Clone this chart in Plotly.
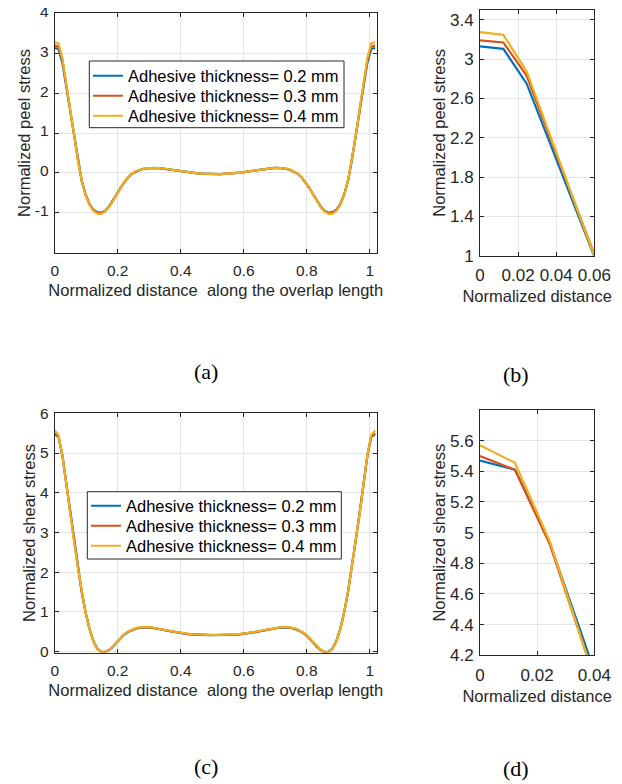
import plotly.graph_objects as go

# ---------------- data ----------------
x_norm = [0.0, 0.01225, 0.0245, 0.03675, 0.049, 0.06125, 0.0735, 0.08575, 0.098, 0.11025,
          0.1225, 0.13475, 0.147, 0.15925, 0.1715, 0.18375, 0.196, 0.20825, 0.2205, 0.23275,
          0.245, 0.25725, 0.2695, 0.28175, 0.294, 0.30625, 0.3185, 0.33075, 0.343, 0.35525,
          0.3675, 0.37975, 0.392, 0.40425, 0.4165, 0.42875, 0.441, 0.45325, 0.4655, 0.47775,
          0.49, 0.50225, 0.5145, 0.52675, 0.539, 0.55125, 0.5635, 0.57575, 0.588, 0.60025,
          0.6125, 0.62475, 0.637, 0.64925, 0.6615, 0.67375, 0.686, 0.69825, 0.7105, 0.72275,
          0.735, 0.74725, 0.7595, 0.77175, 0.784, 0.79625, 0.8085, 0.82075, 0.833, 0.84525,
          0.8575, 0.86975, 0.882, 0.89425, 0.9065, 0.91875, 0.931, 0.94325, 0.9555, 0.96775,
          0.98, 0.99225, 1.0045, 1.01675]

series_names = ["Adhesive thickness= 0.2 mm",
                "Adhesive thickness= 0.3 mm",
                "Adhesive thickness= 0.4 mm"]
series_colors = ["#0072BD", "#D95319", "#EDB120"]

peel_02 = [3.13, 3.105, 2.75, 2.15, 1.55, 0.93, 0.31, -0.19, -0.54, -0.78,
           -0.92, -0.985, -1.0, -0.955, -0.85, -0.71, -0.545, -0.38, -0.235, -0.115,
           -0.025, 0.035, 0.075, 0.1, 0.115, 0.122, 0.124, 0.12, 0.11, 0.095,
           0.08, 0.065, 0.05, 0.035, 0.02, 0.008, -0.003, -0.012, -0.02, -0.026,
           -0.03, -0.032, -0.032, -0.03, -0.026, -0.02, -0.012, -0.003, 0.008, 0.02,
           0.035, 0.05, 0.065, 0.08, 0.095, 0.11, 0.12, 0.124, 0.122, 0.115,
           0.1, 0.075, 0.035, -0.025, -0.115, -0.235, -0.38, -0.545, -0.71, -0.85,
           -0.955, -1.0, -0.985, -0.92, -0.78, -0.54, -0.19, 0.31, 0.93, 1.55,
           2.15, 2.75, 3.105, 3.13]
peel_03 = [3.19, 3.17, 2.83, 2.2, 1.575, 0.93, 0.32, -0.2, -0.55, -0.79,
           -0.935, -1.0, -1.015, -0.965, -0.86, -0.715, -0.55, -0.38, -0.232, -0.112,
           -0.022, 0.038, 0.078, 0.103, 0.118, 0.124, 0.125, 0.12, 0.11, 0.095,
           0.08, 0.065, 0.05, 0.035, 0.02, 0.008, -0.003, -0.012, -0.02, -0.026,
           -0.03, -0.032, -0.032, -0.03, -0.026, -0.02, -0.012, -0.003, 0.008, 0.02,
           0.035, 0.05, 0.065, 0.08, 0.095, 0.11, 0.12, 0.125, 0.124, 0.118,
           0.103, 0.078, 0.038, -0.022, -0.112, -0.232, -0.38, -0.55, -0.715, -0.86,
           -0.965, -1.015, -1.0, -0.935, -0.79, -0.55, -0.2, 0.32, 0.93, 1.575,
           2.2, 2.83, 3.17, 3.19]
peel_04 = [3.275, 3.247, 2.875, 2.23, 1.59, 0.93, 0.33, -0.2, -0.56, -0.8,
           -0.95, -1.02, -1.03, -0.975, -0.865, -0.72, -0.55, -0.38, -0.23, -0.11,
           -0.02, 0.04, 0.08, 0.105, 0.12, 0.125, 0.127, 0.121, 0.11, 0.095,
           0.08, 0.065, 0.05, 0.035, 0.02, 0.008, -0.003, -0.012, -0.02, -0.026,
           -0.03, -0.032, -0.032, -0.03, -0.026, -0.02, -0.012, -0.003, 0.008, 0.02,
           0.035, 0.05, 0.065, 0.08, 0.095, 0.11, 0.121, 0.127, 0.125, 0.12,
           0.105, 0.08, 0.04, -0.02, -0.11, -0.23, -0.38, -0.55, -0.72, -0.865,
           -0.975, -1.03, -1.02, -0.95, -0.8, -0.56, -0.2, 0.33, 0.93, 1.59,
           2.23, 2.875, 3.247, 3.275]

shear_02 = [5.47, 5.41, 4.93, 4.23, 3.5, 2.8, 2.13, 1.51, 0.99, 0.58,
            0.27, 0.08, 0.0, -0.01, 0.03, 0.11, 0.22, 0.33, 0.42, 0.49,
            0.54, 0.575, 0.595, 0.605, 0.605, 0.598, 0.585, 0.567, 0.547, 0.527,
            0.507, 0.488, 0.471, 0.456, 0.443, 0.433, 0.426, 0.42, 0.416, 0.413,
            0.411, 0.41, 0.41, 0.411, 0.413, 0.416, 0.42, 0.426, 0.433, 0.443,
            0.456, 0.471, 0.488, 0.507, 0.527, 0.547, 0.567, 0.585, 0.598, 0.605,
            0.605, 0.595, 0.575, 0.54, 0.49, 0.42, 0.33, 0.22, 0.11, 0.03,
            -0.01, 0.0, 0.08, 0.27, 0.58, 0.99, 1.51, 2.13, 2.8, 3.5,
            4.23, 4.93, 5.41, 5.47]
shear_03 = [5.5, 5.41, 4.92, 4.2, 3.47, 2.78, 2.12, 1.5, 0.98, 0.57,
            0.26, 0.07, -0.01, -0.02, 0.03, 0.12, 0.23, 0.34, 0.43, 0.5,
            0.55, 0.585, 0.605, 0.615, 0.615, 0.606, 0.592, 0.573, 0.553, 0.533,
            0.513, 0.494, 0.477, 0.462, 0.449, 0.439, 0.432, 0.426, 0.422, 0.419,
            0.417, 0.416, 0.416, 0.417, 0.419, 0.422, 0.426, 0.432, 0.439, 0.449,
            0.462, 0.477, 0.494, 0.513, 0.533, 0.553, 0.573, 0.592, 0.606, 0.615,
            0.615, 0.605, 0.585, 0.55, 0.5, 0.43, 0.34, 0.23, 0.12, 0.03,
            -0.02, -0.01, 0.07, 0.26, 0.57, 0.98, 1.5, 2.12, 2.78, 3.47,
            4.2, 4.92, 5.41, 5.5]
shear_04 = [5.57, 5.455, 4.94, 4.19, 3.47, 2.78, 2.12, 1.5, 0.98, 0.57,
            0.26, 0.07, -0.01, -0.02, 0.03, 0.12, 0.23, 0.34, 0.435, 0.505,
            0.555, 0.59, 0.61, 0.62, 0.62, 0.61, 0.595, 0.576, 0.556, 0.536,
            0.516, 0.497, 0.48, 0.465, 0.452, 0.442, 0.435, 0.429, 0.425, 0.422,
            0.42, 0.419, 0.419, 0.42, 0.422, 0.425, 0.429, 0.435, 0.442, 0.452,
            0.465, 0.48, 0.497, 0.516, 0.536, 0.556, 0.576, 0.595, 0.61, 0.62,
            0.62, 0.61, 0.59, 0.555, 0.505, 0.435, 0.34, 0.23, 0.12, 0.03,
            -0.02, -0.01, 0.07, 0.26, 0.57, 0.98, 1.5, 2.12, 2.78, 3.47,
            4.19, 4.94, 5.455, 5.57]

peel_series = [peel_02, peel_03, peel_04]
shear_series = [shear_02, shear_03, shear_04]

ticks_x_full = [0, 0.2, 0.4, 0.6, 0.8, 1]
ticklabels_x_full = ["0", "0.2", "0.4", "0.6", "0.8", "1"]
ticks_y_peel = [-1, 0, 1, 2, 3, 4]
ticklabels_y_peel = ["-1", "0", "1", "2", "3", "4"]
ticks_x_peel_zoom = [0, 0.02, 0.04, 0.06]
ticklabels_x_peel_zoom = ["0", "0.02", "0.04", "0.06"]
ticks_y_peel_zoom = [1, 1.4, 1.8, 2.2, 2.6, 3, 3.4]
ticklabels_y_peel_zoom = ["1", "1.4", "1.8", "2.2", "2.6", "3", "3.4"]
ticks_y_shear = [0, 1, 2, 3, 4, 5, 6]
ticklabels_y_shear = ["0", "1", "2", "3", "4", "5", "6"]
ticks_x_shear_zoom = [0, 0.02, 0.04]
ticklabels_x_shear_zoom = ["0", "0.02", "0.04"]
ticks_y_shear_zoom = [4.2, 4.4, 4.6, 4.8, 5, 5.2, 5.4, 5.6]
ticklabels_y_shear_zoom = ["4.2", "4.4", "4.6", "4.8", "5", "5.2", "5.4", "5.6"]

captions = ["(a)", "(b)", "(c)", "(d)"]

# ---------------- figure ----------------
# the html page adds an 8px body margin, so the figure is drawn 8px smaller
OFF = 8
W, H = 622 - OFF, 784 - OFF
FONT = "Liberation Sans, Arial, Helvetica, sans-serif"
SERIF = "Liberation Serif, Times New Roman, serif"
AX = "#262626"


def px(v):
    return (v - OFF) / W


def py(v):
    return 1 - (v - OFF) / H


def dx(a, b):
    return [px(a), px(b)]


def dy(top, bottom):
    return [py(bottom), py(top)]


fig = go.Figure()

panels = [
    ("x", "y", peel_series, ["legend", "legend2", "legend3"]),
    ("x2", "y2", peel_series, None),
    ("x3", "y3", shear_series, ["legend4", "legend5", "legend6"]),
    ("x4", "y4", shear_series, None),
]
for xa, ya, series, legs in panels:
    for k, (name, vals, col) in enumerate(zip(series_names, series, series_colors)):
        fig.add_trace(go.Scatter(
            x=x_norm, y=vals, mode="lines", name=name,
            line=dict(color=col, width=2.2),
            xaxis=xa, yaxis=ya,
            showlegend=legs is not None,
            legend=legs[k] if legs else "legend",
        ))


def axis(domain, rng, tickvals, ticktext, tsize, title, anchor, standoff, tls, shift=0):
    return dict(
        domain=domain, range=rng, tickvals=tickvals, ticktext=ticktext, anchor=anchor,
        showline=True, linecolor=AX, linewidth=1, mirror="ticks",
        ticks="inside", ticklen=4, tickcolor=AX, tickwidth=1,
        showgrid=True, gridcolor="#e4e4e4", gridwidth=1, zeroline=False,
        tickfont=dict(family=FONT, size=tsize, color=AX),
        ticklabelstandoff=tls, ticklabeloverflow="allow", ticklabelshift=shift,
        title=dict(text=title, font=dict(family=FONT, size=16.5, color=AX), standoff=standoff),
        automargin=False,
    )


xlab_full = "Normalized distance\u00a0 along the overlap length"

layout = dict(
    width=W, height=H,
    margin=dict(l=0, r=0, t=0, b=0),
    paper_bgcolor="white", plot_bgcolor="white",
    xaxis=axis(dx(54.7, 376.7), [0, 1.022], ticks_x_full, ticklabels_x_full, 15.5, xlab_full, "y", 6, 4),
    yaxis=axis(dy(13.3, 252.7), [-2, 4], ticks_y_peel, ticklabels_y_peel, 15.5, "Normalized peel stress", "x", 0, 2, -2),
    xaxis2=axis(dx(480, 594.3), [0, 0.06], ticks_x_peel_zoom, ticklabels_x_peel_zoom, 17, "Normalized distance", "y2", 6, 4),
    yaxis2=axis(dy(10, 255.7), [1, 3.5], ticks_y_peel_zoom, ticklabels_y_peel_zoom, 17, "Normalized peel stress", "x2", 0, 2),
    xaxis3=axis(dx(54.7, 376.7), [0, 1.022], ticks_x_full, ticklabels_x_full, 15.5, xlab_full, "y3", 6, 4),
    yaxis3=axis(dy(413.3, 652.7), [-0.03, 6], ticks_y_shear, ticklabels_y_shear, 15.5, "Normalized shear stress", "x3", 0, 2),
    xaxis4=axis(dx(480, 594.3), [0, 0.04], ticks_x_shear_zoom, ticklabels_x_shear_zoom, 17, "Normalized distance", "y4", 6, 4),
    yaxis4=axis(dy(410, 655.3), [4.2, 5.8], ticks_y_shear_zoom, ticklabels_y_shear_zoom, 17, "Normalized shear stress", "x4", 0, 2),
)

# legend rows: one legend per entry so that the row spacing matches the reference
leg_rows = [("legend", 88, 76), ("legend2", 88, 96), ("legend3", 88, 116),
            ("legend4", 86, 506), ("legend5", 86, 526), ("legend6", 86, 546)]
for lname, lx, ly in leg_rows:
    layout[lname] = dict(x=px(lx), y=py(ly), xanchor="left", yanchor="middle",
                         bgcolor="rgba(0,0,0,0)", borderwidth=0,
                         font=dict(family=FONT, size=16.5, color="black"))

fig.update_layout(**layout)

# legend boxes
for (x0, y0, x1, y1) in [(89.3, 61, 344, 127.7), (87.3, 491.7, 341.3, 559)]:
    fig.add_shape(type="rect", xref="paper", yref="paper",
                  x0=px(x0), x1=px(x1), y0=py(y1), y1=py(y0),
                  line=dict(color=AX, width=1), fillcolor="white", layer="above")

cap_pos = [(206, 371), (516, 374), (206, 766), (516, 768)]
for txt, (cx, cy) in zip(captions, cap_pos):
    fig.add_annotation(text=txt, x=px(cx), y=py(cy), xref="paper", yref="paper",
                       showarrow=False, xanchor="center", yanchor="middle",
                       font=dict(family=SERIF, size=22, color="black"))

fig.write_html("out.html")
